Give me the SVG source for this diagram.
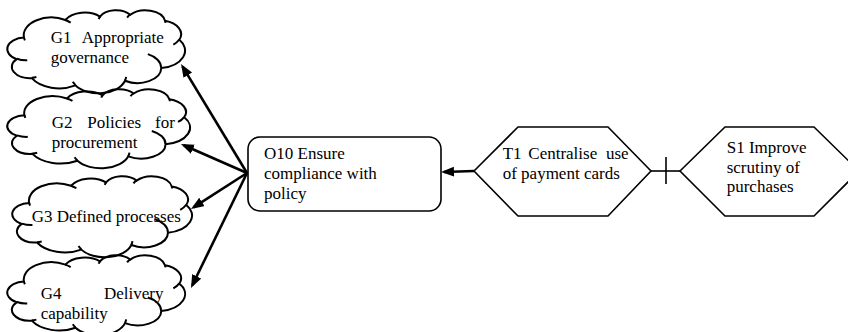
<svg xmlns="http://www.w3.org/2000/svg" xmlns:xlink="http://www.w3.org/1999/xlink" width="848" height="332" viewBox="0 0 848 332">
<style>
.cloud{fill:none;stroke:#000;stroke-width:2}
.node{fill:#fff;stroke:#000;stroke-width:1.6}
.arr{fill:none;stroke:#000;stroke-width:2.6}
.thin{fill:none;stroke:#000;stroke-width:1.6}
</style>
<defs>
<marker id="ah" markerUnits="userSpaceOnUse" markerWidth="14" markerHeight="11" refX="10" refY="5" orient="auto">
<path d="M0,0 L13,5 L0,10 z" fill="#000"/>
</marker>
<g id="cloudshape">
<path vector-effect="non-scaling-stroke" d="M3900,14370 A6753,9190 0 0 1 14005.3,5202.3 A5333,7267 0 0 1 22457.1,3432.6 A4365,5945 0 0 1 29834.2,2480.8 A4857,6595 0 0 1 38319,5576.6 A5333,7273 0 0 1 41819.4,15460.1 A6775,9220 0 0 1 37405.4,30203.7 A5785,7867 0 0 1 28556.9,36814.1 A6752,9215 0 0 1 16481.6,39265.7 A7720,10543 0 0 1 5805.8,35471.4 A4360,5918 0 0 1 2114.3,25549.8 A4345,5945 0 0 1 3900,14370 Z"/>
<path vector-effect="non-scaling-stroke" d="M4693,26177 A4345,5945 0 0 1 2159.7,25379.9 M6928,34899 A4360,5918 0 0 1 5819.8,35280.4 M16478,39090 A6752,9215 0 0 1 15809.9,37349 M28827,34751 A6752,9215 0 0 1 28560.4,36660.3 M34129,22954 A5785,7867 0 0 1 37380.5,30089.6 M41798,15354 A5333,7273 0 0 1 40349.7,18030.5 M38324,5426 A4857,6595 0 0 1 38400.5,6689.6 M29078,3952 A4857,6595 0 0 1 29820.4,2338.5 M22141,4720 A4365,5945 0 0 1 22500.1,3330.7 M14000,5192 A6753,9190 0 0 1 15300.6,6541.2 M4127,15789 A6753,9190 0 0 1 3900.2,14370.4"/>
</g>
</defs>

<g id="connectors">
<line class="arr" x1="247" y1="173" x2="182.6" y2="66.6" marker-end="url(#ah)"/>
<line class="arr" x1="247" y1="173" x2="183.7" y2="145.2" marker-end="url(#ah)"/>
<line class="arr" x1="247" y1="173" x2="193.5" y2="207.4" marker-end="url(#ah)"/>
<line class="arr" x1="247" y1="173" x2="192.3" y2="285.3" marker-end="url(#ah)"/>
<line class="arr" x1="474" y1="171" x2="444" y2="172" marker-end="url(#ah)"/>
<line class="thin" x1="651" y1="171" x2="680" y2="171"/>
<line class="thin" x1="666" y1="157" x2="666" y2="184"/>
</g>

<g font-family="'Liberation Serif', 'DejaVu Serif', serif" font-size="17" fill="#000">
<g id="G1">
<use xlink:href="#cloudshape" class="cloud" transform="translate(8,10) scale(0.0040972,0.0019213)"/>
<text x="50.7" y="43">G1</text><text x="81.7" y="43">Appropriate</text>
<text x="50.7" y="63">governance</text>
</g>
<g id="G2">
<use xlink:href="#cloudshape" class="cloud" transform="translate(8,89) scale(0.004213,0.0018287)"/>
<text x="51.7" y="128">G2</text><text x="87.3" y="128">Policies</text><text x="155" y="128">for</text>
<text x="51.7" y="148">procurement</text>
</g>
<g id="G3">
<use xlink:href="#cloudshape" class="cloud" transform="translate(13,176) scale(0.0041435,0.001875)"/>
<text x="31.7" y="222">G3 Defined processes</text>
</g>
<g id="G4">
<use xlink:href="#cloudshape" class="cloud" transform="translate(8,255) scale(0.0040972,0.0018519)"/>
<text x="40.7" y="298.5">G4</text><text x="104" y="298.5">Delivery</text>
<text x="40.7" y="318.5">capability</text>
</g>

<g id="O10">
<rect class="node" x="248" y="137" width="193" height="74" rx="12" ry="12"/>
<text x="264" y="159">O10 Ensure</text>
<text x="264" y="179">compliance with</text>
<text x="264" y="198.5">policy</text>
</g>

<g id="T1">
<polygon class="node" points="474,171 518,127 608,127 651,171 608,216 518,216"/>
<text x="502.7" y="159">T1</text><text x="528.3" y="159">Centralise</text><text x="606" y="159">use</text>
<text x="502.7" y="179">of payment cards</text>
</g>

<g id="S1">
<polygon class="node" points="680,171 725,127 814,127 859,171 814,216 725,216"/>
<text x="726.7" y="153">S1 Improve</text>
<text x="726.7" y="172.5">scrutiny of</text>
<text x="726.7" y="192">purchases</text>
</g>
</g>
</svg>
